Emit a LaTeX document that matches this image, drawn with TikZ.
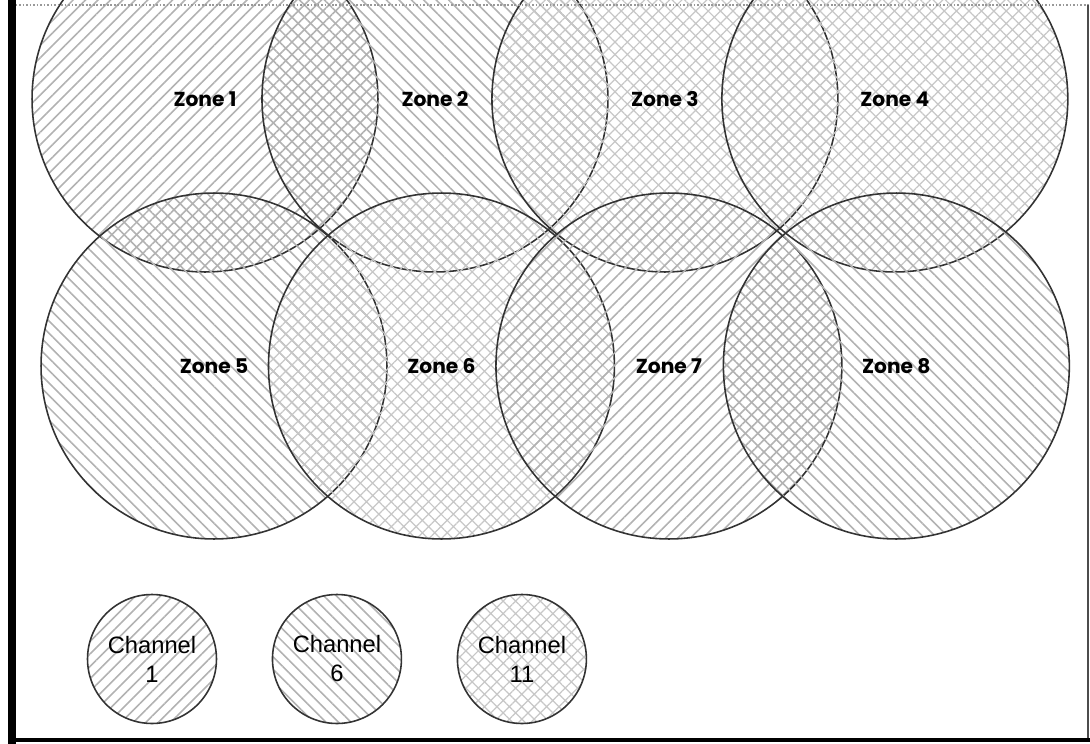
\documentclass[tikz,border=0pt]{standalone}
\usepackage{fontspec}
\newfontfamily\zonefont{Poppins}
\newfontfamily\chanfont{Liberation Sans}
\usetikzlibrary{positioning,patterns.meta}

\tikzset{
  cell/.style={circle,draw=black!80,line width=0.9pt,minimum size=6.92cm,inner sep=0pt,
    font=\zonefont\bfseries\fontsize{11.5}{14}\selectfont},
  chan/.style={circle,draw=black!80,line width=0.9pt,minimum size=2.58cm,inner sep=0pt,
    align=center,font=\chanfont\fontsize{13.5}{16.5}\selectfont},
  ch1/.style={pattern={Lines[angle=45,distance=5pt,line width=0.9pt]},pattern color=black!30},
  ch6/.style={pattern={Lines[angle=-45,distance=5pt,line width=0.9pt]},pattern color=black!30},
  ch11/.style={pattern={Hatch[angle=45,distance=5pt,line width=0.7pt]},pattern color=black!22},
}

\begin{document}
\begin{tikzpicture}[x=0.02cm,y=-0.02cm,node distance=4.6cm,on grid]
\useasboundingbox (0,0) rectangle (1090,744);
\begin{scope}
\clip (0,0) rectangle (1090,744);
% zones, top row
\node[cell,ch1] (z1) at (205,99) {Zone 1};
\node[cell,ch6] (z2) [right=of z1] {Zone 2};
\node[cell,ch11] (z3) [right=of z2] {Zone 3};
\node[cell,ch11] (z4) [right=of z3] {Zone 4};
% zones, bottom row
\begin{scope}[node distance=4.55cm]
\node[cell,ch6] (z5) at (214,366) {Zone 5};
\node[cell,ch11] (z6) [right=of z5] {Zone 6};
\node[cell,ch1] (z7) [right=of z6] {Zone 7};
\node[cell,ch6] (z8) [right=of z7] {Zone 8};
\end{scope}
% legend
\begin{scope}[node distance=3.7cm]
\node[chan,ch1] (c1) at (152,659) {Channel\\1};
\node[chan,ch6] (c6) [right=of c1] {Channel\\6};
\node[chan,ch11] (c11) [right=of c6] {Channel\\11};
\end{scope}
\end{scope}
% frame
\draw[black!40,densely dotted,line width=1pt] (12,5) -- (1090,5);
\draw[black!70,line width=0.6pt] (1088,5) -- (1088,740);
\draw[black,line width=1.8pt] (12,740) -- (1090,740);
\draw[black,line width=4pt] (12,0) -- (12,744);
\end{tikzpicture}
\end{document}
